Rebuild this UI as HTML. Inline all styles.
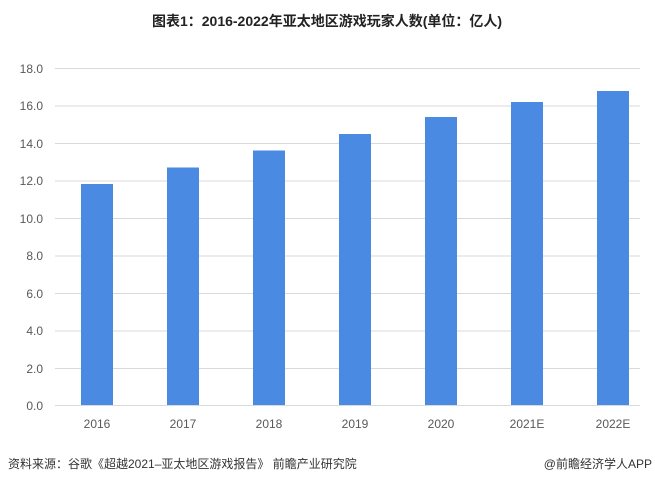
<!DOCTYPE html><html><head><meta charset="utf-8"><style>body{margin:0;background:#fff;width:655px;height:484px;overflow:hidden;font-family:"Liberation Sans","Noto Sans CJK SC",sans-serif}</style></head><body>
<svg width="655" height="484" xmlns="http://www.w3.org/2000/svg" font-family="Liberation Sans, Noto Sans CJK SC, sans-serif">
<text x="327" y="26" text-anchor="middle" font-size="14" font-weight="bold" fill="#222">图表1：2016-2022年亚太地区游戏玩家人数(单位：亿人)</text>
<g stroke="#d9d9d9" stroke-width="1">
<line x1="55" x2="640" y1="68.5" y2="68.5"/><line x1="55" x2="640" y1="106" y2="106"/><line x1="55" x2="640" y1="143.5" y2="143.5"/><line x1="55" x2="640" y1="181" y2="181"/><line x1="55" x2="640" y1="218.5" y2="218.5"/><line x1="55" x2="640" y1="256" y2="256"/><line x1="55" x2="640" y1="293.5" y2="293.5"/><line x1="55" x2="640" y1="331" y2="331"/><line x1="55" x2="640" y1="368.5" y2="368.5"/><line x1="55" x2="640" y1="405.5" y2="405.5"/>
</g>
<g font-size="12" fill="#595959" text-anchor="end">
<text x="43" y="73">18.0</text><text x="43" y="110">16.0</text><text x="43" y="148">14.0</text><text x="43" y="185">12.0</text><text x="43" y="223">10.0</text><text x="43" y="260">8.0</text><text x="43" y="298">6.0</text><text x="43" y="335">4.0</text><text x="43" y="373">2.0</text><text x="43" y="410">0.0</text>
</g>
<g fill="#4a8ae3">
<rect x="81" y="184" width="32" height="221"/>
<rect x="167" y="167.5" width="32" height="237.5"/>
<rect x="253" y="150.5" width="32" height="254.5"/>
<rect x="339" y="134" width="32" height="271"/>
<rect x="425" y="117" width="32" height="288"/>
<rect x="511" y="102" width="32" height="303"/>
<rect x="597" y="91" width="32" height="314"/>
</g>
<g font-size="12" fill="#595959" text-anchor="middle">
<text x="97" y="428">2016</text><text x="183" y="428">2017</text><text x="269" y="428">2018</text><text x="355" y="428">2019</text><text x="441" y="428">2020</text><text x="527" y="428">2021E</text><text x="613" y="428">2022E</text>
</g>
<text x="8" y="468" font-size="12" fill="#333">资料来源：谷歌《超越2021–亚太地区游戏报告》 前瞻产业研究院</text>
<text x="652" y="468" font-size="12" fill="#333" text-anchor="end">@前瞻经济学人APP</text>
</svg></body></html>
